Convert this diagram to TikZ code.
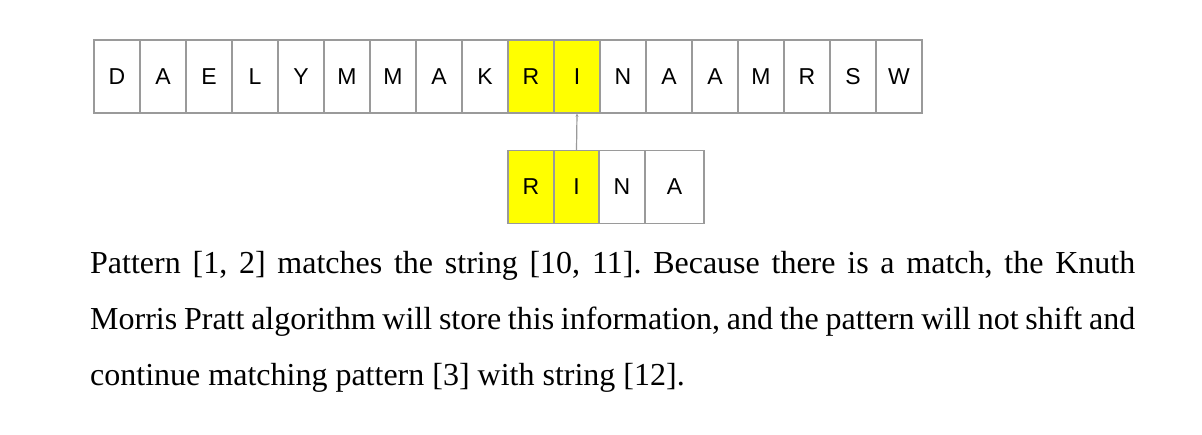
\documentclass[tikz,border=0pt]{standalone}
\usepackage{fontspec}
\setmainfont{Liberation Serif}
\newfontfamily\cellfont{Liberation Sans}
\usepackage{xcolor}
\usetikzlibrary{arrows.meta,positioning}

\definecolor{cellgray}{HTML}{9A9A9A}
\definecolor{matchyellow}{HTML}{FFFF00}

\tikzset{
    cell/.style={draw=cellgray, line width=1.4pt, fill=white, minimum height=73pt,
        minimum width=46pt, inner sep=0pt, font=\cellfont\fontsize{23}{23}\selectfont},
    hit/.style={fill=matchyellow},
}

\begin{document}
\begin{tikzpicture}[x=1pt, y=-1pt]
    \useasboundingbox (0,0) rectangle (1202,435);

    % String
    \foreach \ch [count=\i] in {D,A,E,L,Y,M,M,A,K,R,I,N,A,A,M,R,S,W}
        \node[cell] (s\i) at ({71+46*\i}, 76.5) {\ch};
    \node[cell, hit] at (s10) {R};
    \node[cell, hit] at (s11) {I};

    % Pattern
    \node[cell, hit] (p1) at (531, 187) {R};
    \node[cell, hit, minimum width=45pt] (p2) at (576.5, 187) {I};
    \node[cell] (p3) at (622, 187) {N};
    \node[cell, minimum width=59pt] (p4) at (674.5, 187) {A};

    % Match pointer
    \draw[cellgray, line width=1.2pt, -{Stealth[length=3pt, width=3pt]}] (p2.north) -- (s11.south);

    % Caption
    \node[anchor=base west, text width=1045pt, align=justify, inner sep=0pt,
        font=\fontsize{32}{56}\selectfont] (caption) at (90, 274)
        {\frenchspacing\hyphenpenalty=10000 Pattern [1, 2] matches the string [10, 11]. Because there is a match, the Knuth\linebreak
        Morris Pratt algorithm will store this information, and the pattern will not shift and\linebreak
        continue matching pattern [3] with string [12].};
\end{tikzpicture}
\end{document}
